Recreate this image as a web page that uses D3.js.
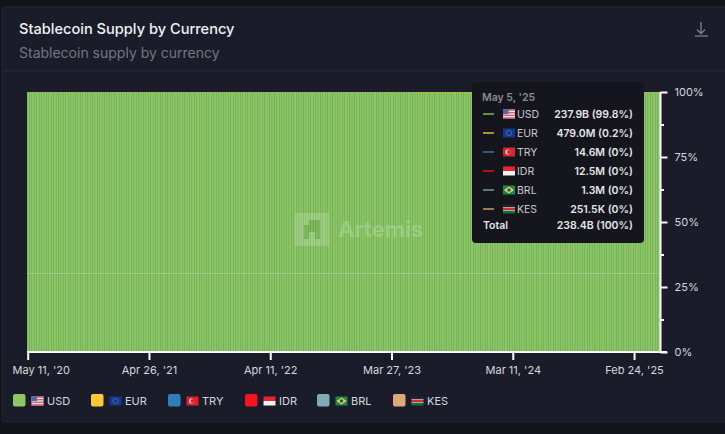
<!DOCTYPE html>
<html>
<head>
<meta charset="utf-8">
<script src="https://cdn.jsdelivr.net/npm/d3@7"></script>
<style>
  html, body { margin: 0; padding: 0; background: #12141b; }
  svg { display: block; font-family: Inter, "Noto Sans", sans-serif; }
</style>
</head>
<body>
<svg id="chart" width="725" height="434"></svg>
<script>
const currencies = ["USD", "EUR", "TRY", "IDR", "BRL", "KES"];
const colors = ["#8cc665", "#ffc933", "#2f7fb8", "#f5141e", "#82aab4", "#dcaa78"];
const tooltipValues = ["237.9B (99.8%)", "479.0M (0.2%)", "14.6M (0%)", "12.5M (0%)", "1.3M (0%)", "251.5K (0%)"];
const tooltipTotal = "238.4B (100%)";
const tooltipDate = "May 5, '25";
const yTicks = [0, 0.125, 0.25, 0.375, 0.5, 0.625, 0.75, 0.875, 1];

// weekly bars, Mondays
const weeks = d3.utcMonday.range(new Date(Date.UTC(2020, 4, 11)), new Date(Date.UTC(2025, 4, 6)));

// share of total in %. EUR never gets past a pixel
const usdShare = [
  99.9, 99.9, 99.9, 99.9, 99.9, 99.9, 99.9, 99.9, 99.9, 99.9, 99.9, 99.9, 99.9, 99.9, 99.9, 99.9, 99.9, 99.9, 99.9, 99.9,
  99.9, 99.9, 99.9, 99.9, 99.9, 99.9, 99.9, 99.9, 99.9, 99.9, 99.9, 99.9, 99.9, 99.9, 99.9, 99.9, 99.9, 99.9, 99.9, 99.9,
  99.9, 99.9, 99.9, 99.9, 99.9, 99.9, 99.9, 99.9, 99.9, 99.9, 99.9, 99.9, 99.9, 99.9, 99.9, 99.9, 99.9, 99.9, 99.9, 99.9,
  99.9, 99.9, 99.9, 99.9, 99.9, 99.9, 99.9, 99.9, 99.9, 99.9, 99.9, 99.9, 99.9, 99.9, 99.9, 99.9, 99.9, 99.9, 99.9, 99.9,
  99.9, 99.9, 99.9, 99.9, 99.9, 99.9, 99.9, 99.9, 99.9, 99.9, 99.9, 99.9, 99.9, 99.9, 99.9, 99.9, 99.9, 99.9, 99.9, 99.9,
  99.9, 99.9, 99.9, 99.9, 99.9, 99.9, 99.9, 99.9, 99.9, 99.9, 99.9, 99.9, 99.9, 99.9, 99.9, 99.9, 99.9, 99.9, 99.9, 99.9,
  99.9, 99.9, 99.9, 99.9, 99.9, 99.9, 99.9, 99.9, 99.9, 99.9, 99.9, 99.9, 99.9, 99.9, 99.9, 99.9, 99.9, 99.9, 99.9, 99.9,
  99.9, 99.9, 99.9, 99.9, 99.9, 99.9, 99.9, 99.9, 99.9, 99.9, 99.9, 99.9, 99.9, 99.9, 99.9, 99.9, 99.9, 99.9, 99.9, 99.9,
  99.8, 99.8, 99.8, 99.8, 99.8, 99.8, 99.8, 99.8, 99.8, 99.8, 99.8, 99.8, 99.8, 99.8, 99.8, 99.8, 99.8, 99.8, 99.8, 99.8,
  99.8, 99.8, 99.8, 99.8, 99.8, 99.8, 99.8, 99.8, 99.8, 99.8, 99.8, 99.8, 99.8, 99.8, 99.8, 99.8, 99.8, 99.8, 99.8, 99.8,
  99.8, 99.8, 99.8, 99.8, 99.8, 99.8, 99.8, 99.8, 99.8, 99.8, 99.8, 99.8, 99.8, 99.8, 99.8, 99.8, 99.8, 99.8, 99.8, 99.8,
  99.8, 99.8, 99.8, 99.8, 99.8, 99.8, 99.8, 99.8, 99.8, 99.8, 99.8, 99.8, 99.8, 99.8, 99.8, 99.8, 99.8, 99.8, 99.8, 99.8,
  99.8, 99.8, 99.8, 99.8, 99.8, 99.8, 99.8, 99.8, 99.8, 99.8, 99.8, 99.8, 99.8, 99.8, 99.8, 99.8, 99.8, 99.8, 99.8, 99.8,
  99.8
];

const svg = d3.select("#chart");

// panel
svg.append("rect").attr("x", 2).attr("y", 7).attr("width", 730).attr("height", 415).attr("rx", 3)
  .attr("fill", "#1a1c2a").attr("stroke", "#23263200".slice(0, 7));
svg.append("line").attr("x1", 3).attr("x2", 725).attr("y1", 71).attr("y2", 71).attr("stroke", "#272a38");

svg.append("text").attr("x", 19).attr("y", 34).attr("fill", "#f0f1f4")
  .attr("font-size", 14.6).attr("font-weight", 500).text("Stablecoin Supply by Currency");
svg.append("text").attr("x", 19).attr("y", 58).attr("fill", "#74767f")
  .attr("font-size", 14).text("Stablecoin supply by currency");

// download icon
const dl = svg.append("g").attr("stroke", "#7d7f8a").attr("stroke-width", 1.3).attr("fill", "none");
dl.append("path").attr("d", "M701 22V33M697 29.5L701 33.5L705 29.5");
dl.append("path").attr("d", "M695 36H708");

// scales
const x = d3.scaleBand().domain(weeks).range([27, 660]).paddingInner(0.17).paddingOuter(0.08);
const y = d3.scaleLinear().domain([0, 1]).range([352, 92]);

const stackRows = weeks.map((d, i) => ({ date: d, USD: usdShare[i], EUR: 100 - usdShare[i] }));
const stacked = d3.stack().keys(["USD", "EUR"]).offset(d3.stackOffsetExpand)(stackRows);

svg.append("rect").attr("x", 27).attr("y", 92).attr("width", 633).attr("height", 260).attr("fill", "#5f9a52");

svg.append("g").selectAll("g").data(stacked).join("g")
  .attr("fill", d => colors[currencies.indexOf(d.key)])
  .selectAll("rect").data(d => d).join("rect")
  .attr("x", d => x(d.data.date))
  .attr("width", x.bandwidth())
  .attr("y", d => y(d[1]))
  .attr("height", d => y(d[0]) - y(d[1]));

// faint grid line and watermark sit on top of the bars
svg.append("line").attr("x1", 27).attr("x2", 660).attr("y1", 273.5).attr("y2", 273.5)
  .attr("stroke", "#ffffff").attr("stroke-opacity", 0.22);

const mark = svg.append("g").attr("opacity", 0.17);
mark.append("rect").attr("x", 295).attr("y", 213).attr("width", 34).attr("height", 33).attr("fill", "#fff");
mark.append("path").attr("d", "M304 239V225H309V220H320V239H315V232H309V239Z").attr("fill", "#4c7f3d");
svg.append("text").attr("x", 338).attr("y", 237).attr("fill", "#fff").attr("opacity", 0.2)
  .attr("font-size", 22).attr("font-weight", 700).text("Artemis");

// axes
const xTickValues = weeks.filter((d, i) => i % 50 === 0);
const xAxis = d3.axisBottom(x).tickValues(xTickValues).tickSize(8).tickSizeOuter(0)
  .tickFormat(d3.utcFormat("%b %-d, '%y"));
const yAxis = d3.axisRight(y).tickValues(yTicks).tickSizeOuter(0)
  .tickFormat(d => (d * 4) % 1 === 0 ? d3.format(".0%")(d) : "");

const gx = svg.append("g").attr("transform", "translate(0,352)").call(xAxis);
gx.select(".domain").attr("stroke", "#fff").attr("stroke-width", 2).attr("d", "M27,0H667");
gx.selectAll(".tick line").attr("stroke", "#fff").attr("stroke-width", 2);
gx.selectAll(".tick text").attr("y", 18).attr("dy", "0.32em").attr("fill", "#d6d7db")
  .attr("font-size", 11).attr("font-family", "Inter, sans-serif")
  .attr("dx", (d, i) => i === 0 ? 13 : 0);

const gy = svg.append("g").attr("transform", "translate(660.5,0)").call(yAxis);
gy.select(".domain").attr("stroke", "#fff").attr("stroke-width", 2).attr("d", "M0,92V352");
gy.selectAll(".tick line").attr("stroke", "#fff").attr("stroke-width", 2)
  .attr("x2", d => (d * 4) % 1 === 0 ? 7 : 3.5);
gy.selectAll(".tick text").attr("x", 14).attr("dy", "0.32em").attr("fill", "#d6d7db")
  .attr("font-size", 11).attr("font-family", "Inter, sans-serif");

// little flags
function drawFlag(g, code, fx, fy) {
  const w = 12, h = 9;
  const f = g.append("g").attr("transform", `translate(${fx},${fy})`);
  const band = (yy, hh, c) => f.append("rect").attr("y", yy).attr("width", w).attr("height", hh).attr("fill", c);
  if (code === "USD") {
    band(0, h, "#e8e4ea");
    [0, 2.6, 5.2, 7.8].forEach(yy => band(yy, 1.2, "#d4525f"));
    f.append("rect").attr("width", 5.5).attr("height", 4.6).attr("fill", "#5664a8");
  } else if (code === "EUR") {
    band(0, h, "#123a8c");
    f.append("circle").attr("cx", 6).attr("cy", 4.5).attr("r", 2.6).attr("fill", "none")
      .attr("stroke", "#5a6f9a").attr("stroke-width", 0.8);
  } else if (code === "TRY") {
    band(0, h, "#d8232f");
    f.append("circle").attr("cx", 5).attr("cy", 4.5).attr("r", 2.5).attr("fill", "#f6e4e4");
    f.append("circle").attr("cx", 5.8).attr("cy", 4.5).attr("r", 1.9).attr("fill", "#d8232f");
  } else if (code === "IDR") {
    band(0, 4.5, "#e8242e");
    band(4.5, 4.5, "#f2f2f2");
  } else if (code === "BRL") {
    band(0, h, "#1b8a45");
    f.append("path").attr("d", "M6 1L11 4.5L6 8L1 4.5Z").attr("fill", "#e6d84a");
    f.append("circle").attr("cx", 6).attr("cy", 4.5).attr("r", 1.8).attr("fill", "#2a4a90");
  } else {
    band(0, 3, "#2a2225");
    band(3, 3, "#c8303a");
    band(6, 3, "#1f6b3a");
    band(2.7, 0.6, "#eee");
    band(5.7, 0.6, "#eee");
  }
}

// legend
const legendX = [13, 91, 168, 245, 317, 393];
const legend = svg.append("g");
currencies.forEach((c, i) => {
  const lx = legendX[i];
  legend.append("rect").attr("x", lx).attr("y", 394).attr("width", 12.5).attr("height", 12.5).attr("rx", 2).attr("fill", colors[i]);
  drawFlag(legend, c, lx + 18.5, 396.5);
  legend.append("text").attr("x", lx + 34).attr("y", 401).attr("dy", "0.35em")
    .attr("fill", "#d6d7db").attr("font-size", 11).text(c);
});

// tooltip
const tip = svg.append("g");
tip.append("rect").attr("x", 472).attr("y", 82).attr("width", 172).attr("height", 161).attr("rx", 4).attr("fill", "#15161d");
tip.append("text").attr("x", 482).attr("y", 101).attr("fill", "#8a8b90")
  .attr("font-size", 10.5).attr("font-weight", 600).text(tooltipDate);
currencies.forEach((c, i) => {
  const ry = 114 + i * 19;
  tip.append("line").attr("x1", 483).attr("x2", 494).attr("y1", ry).attr("y2", ry)
    .attr("stroke", colors[i]).attr("stroke-width", 1.6).attr("stroke-opacity", 0.85);
  drawFlag(tip, c, 503, ry - 4.5);
  tip.append("text").attr("x", 517).attr("y", ry).attr("dy", "0.35em")
    .attr("fill", "#c8c9cd").attr("font-size", 10.5).text(c);
  tip.append("text").attr("x", 633).attr("y", ry).attr("dy", "0.35em").attr("text-anchor", "end")
    .attr("fill", "#e4e5e8").attr("font-size", 10.5).attr("font-weight", 600).text(tooltipValues[i]);
});
tip.append("text").attr("x", 483).attr("y", 225).attr("dy", "0.35em").attr("fill", "#e4e5e8")
  .attr("font-size", 10.5).attr("font-weight", 600).text("Total");
tip.append("text").attr("x", 633).attr("y", 225).attr("dy", "0.35em").attr("text-anchor", "end")
  .attr("fill", "#e4e5e8").attr("font-size", 10.5).attr("font-weight", 600).text(tooltipTotal);
</script>
</body>
</html>
